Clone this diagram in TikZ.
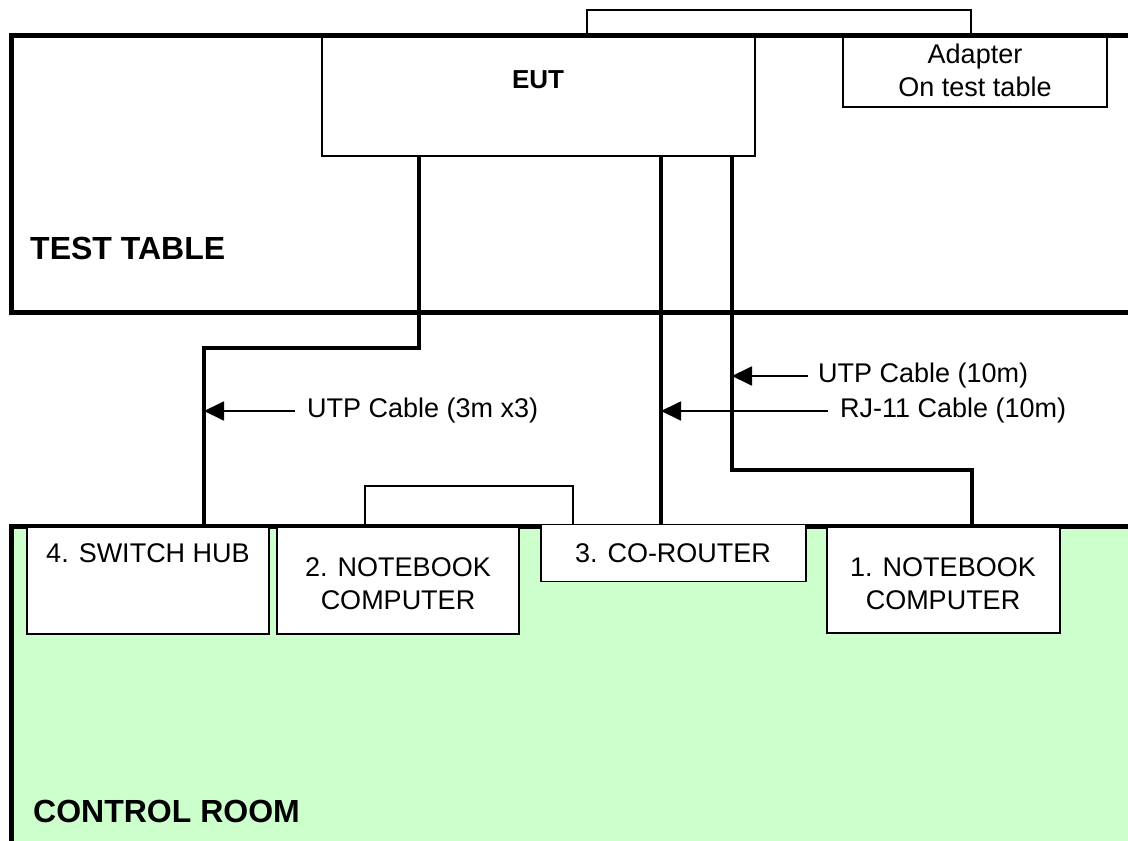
\documentclass[tikz,border=0pt]{standalone}
\usepackage{fontspec}
\setmainfont{Liberation Sans}
\usetikzlibrary{arrows.meta}
\definecolor{roomgreen}{HTML}{CCFFCC}
\begin{document}
\begin{tikzpicture}[x=1pt,y=-1pt,
  box/.style={draw, line width=1.7pt, fill=white, rectangle, inner sep=0pt},
  thinline/.style={line width=1.7pt},
  wall/.style={line width=5pt},
  cable/.style={line width=3.2pt},
  arr/.style={line width=1.8pt, -{Triangle[length=20pt,width=19pt]}},
  txt/.style={font=\fontsize{27}{33}\selectfont, inner sep=0pt, align=center},
  btxt/.style={font=\fontsize{32}{38}\selectfont\bfseries, inner sep=0pt}]
\useasboundingbox (0,0) rectangle (1128,841);
\begin{scope}
  \clip (0,0) rectangle (1128,841);
  % control room
  \fill[roomgreen] (11,526) rectangle (1140,850);
  \draw[wall] (11,850) -- (11,526) -- (1140,526);
  % small box above EUT
  \draw[thinline] (587,35) -- (587,10) -- (971,10) -- (971,35);
  % test table
  \draw[wall] (1140,35) -- (11,35) -- (11,312) -- (1140,312);
\end{scope}
% small box above notebook 2
\draw[thinline] (365,526) -- (365,486) -- (573,486) -- (573,526);

% boxes
\node[box, minimum width=433pt, minimum height=119pt] (eut) at (538.5,96.5) {};
\node[box, minimum width=264pt, minimum height=70pt] (adapter) at (975,72) {};
\node[box, minimum width=242pt, minimum height=107pt] (hub) at (148,580.5) {};
\node[box, minimum width=242pt, minimum height=107pt] (nb2) at (398,580.5) {};
\node[box, minimum width=265pt, minimum height=57pt] (router) at (673.5,553) {};
\node[box, minimum width=233pt, minimum height=106pt] (nb1) at (943.5,580) {};

% texts
\node[font=\fontsize{26}{30}\selectfont\bfseries, inner sep=0pt] (eutlabel) at (538,80) {EUT};
\node[txt] (adlabel) at (975,70) {Adapter\\On test table};
\node[txt] (hublabel) at (148,553) {4. SWITCH HUB};
\node[txt] (nb2label) at (398,584) {2. NOTEBOOK\\COMPUTER};
\node[txt] (routerlabel) at (673,553) {3. CO-ROUTER};
\node[txt] (nb1label) at (943,584) {1. NOTEBOOK\\COMPUTER};
\node[btxt, anchor=west] (tt) at (30,248) {TEST TABLE};
\node[btxt, anchor=west] (cr) at (33,811) {CONTROL ROOM};

% cables
\coordinate (k1) at (419,348);
\coordinate (k2) at (204,348);
\coordinate (k3) at (661,400);
\coordinate (k4) at (732,470);
\coordinate (k5) at (972,470);
\draw[cable] (eut.south -| k1) -- (k1) -- (k2) -- (k2 |- hub.north);
\draw[cable] (eut.south -| k3) -- (router.north -| k3);
\draw[cable] (eut.south -| k4) -- (k4) -- (k5) -- (k5 |- nb1.north);

% cable labels
\coordinate (t1) at (295,411);
\coordinate (t2) at (808,376);
\coordinate (t3) at (828,411);
\draw[arr] (t1) -- (t1 -| k2);
\draw[arr] (t2) -- (t2 -| k4);
\draw[arr] (t3) -- (t3 -| k3);
\node[txt, anchor=west] (l1) at (307,411) {UTP Cable (3m x3)};
\node[txt, anchor=west] (l2) at (818,376) {UTP Cable (10m)};
\node[txt, anchor=west] (l3) at (840,411) {RJ-11 Cable (10m)};
\end{tikzpicture}
\end{document}
